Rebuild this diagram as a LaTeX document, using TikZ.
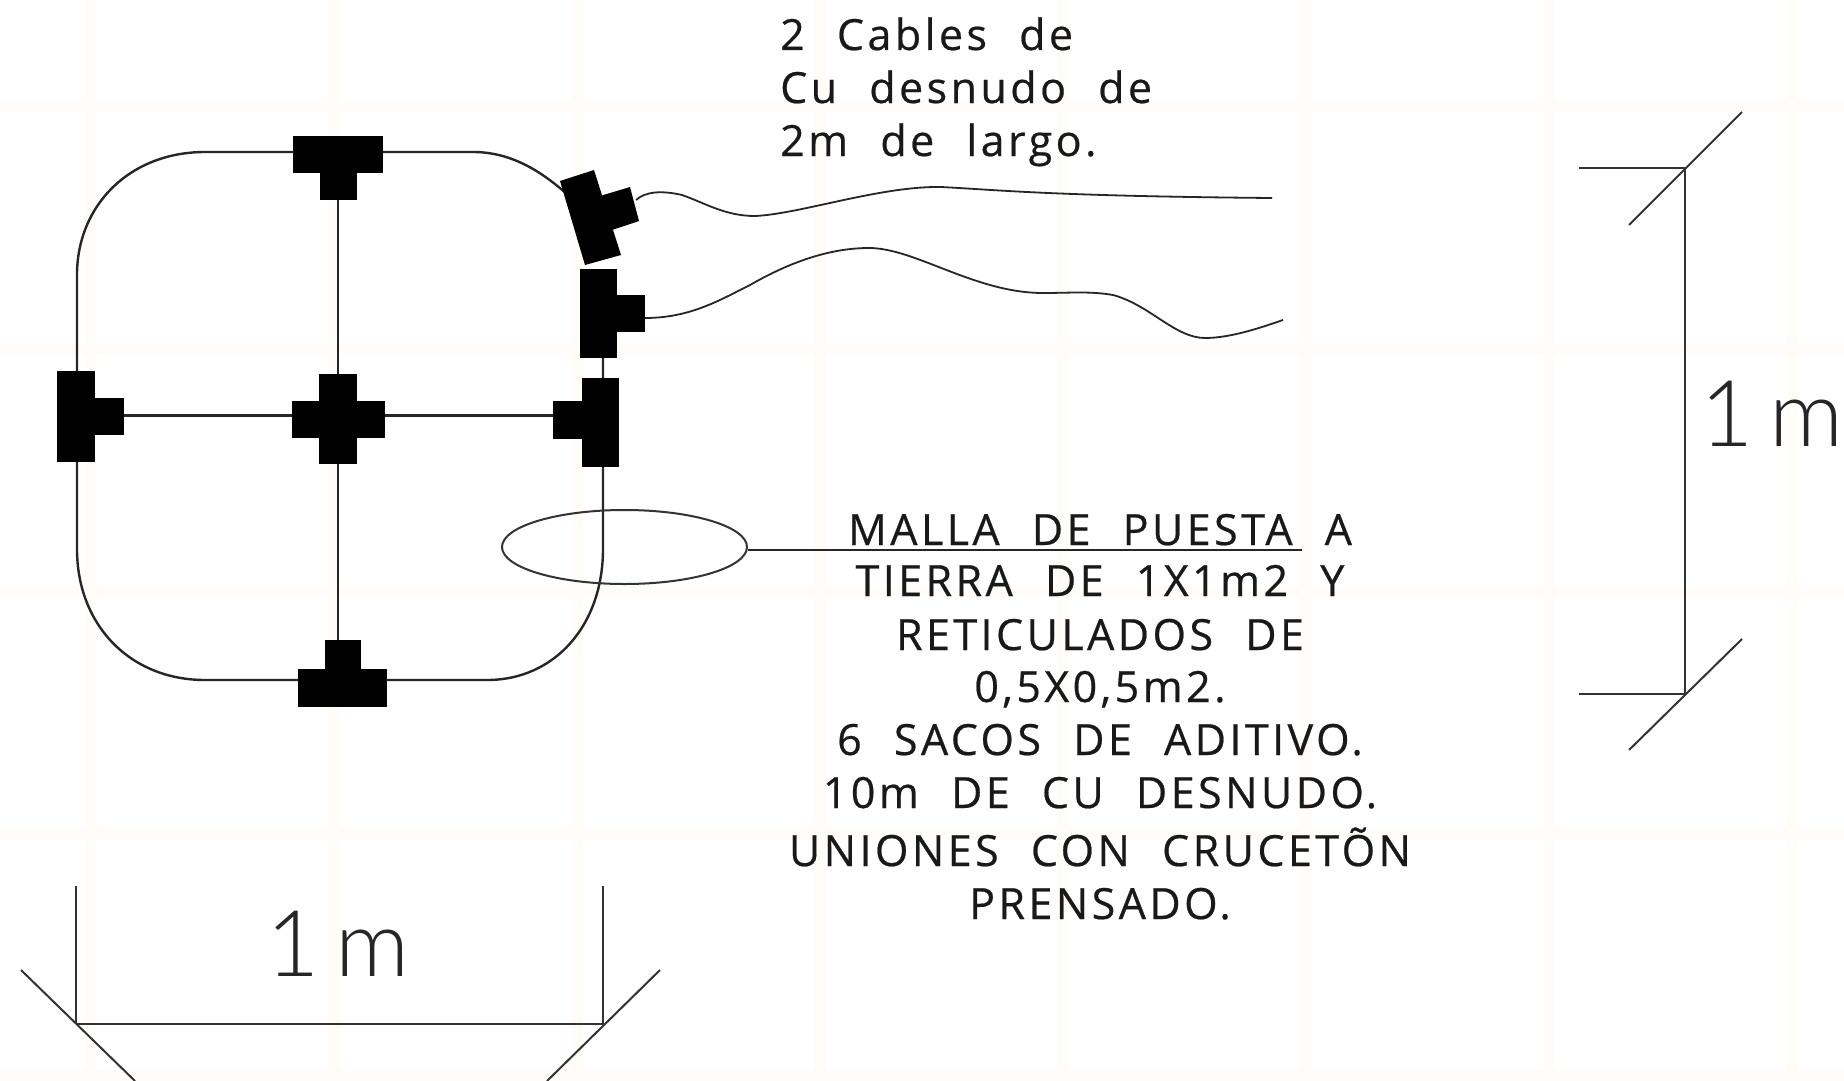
\documentclass[tikz,border=0pt]{standalone}
\usepackage{fontspec}
\usetikzlibrary{shapes.geometric}
\setmainfont{Open Sans}[LetterSpace=8,WordSpace=2.2,FakeBold=0.5]
\newfontfamily\dimfont{Lato Light}
\tikzset{
  x=1pt,y=-1pt,
  wire/.style={draw=black!85,line width=2.4pt},
  cable/.style={draw=black!85,line width=1.8pt},
  thin dim/.style={draw=black!80,line width=2pt},
  lug/.style={fill=black,draw=none},
  lbl/.style={anchor=base,inner sep=0pt,font=\fontsize{43}{43}\selectfont,text=black!90},
  lbll/.style={anchor=base west,inner sep=0pt,font=\fontsize{43}{43}\selectfont,text=black!90},
  dimlbl/.style={anchor=base,inner sep=0pt,font=\dimfont\fontsize{92}{92}\selectfont,text=black!85},
  band/.style={fill=orange!2,draw=none},
}
\begin{document}
\begin{tikzpicture}
\useasboundingbox (0,0) rectangle (1844,1081);
\fill[white] (0,0) rectangle (1844,1081);
\foreach \bx in {91,334,577,820,1063,1306,1549,1792} \fill[band] (\bx-6,0) rectangle (\bx+6,1081);
\foreach \by in {106,349,592,833,1075} \fill[band] (0,\by-6) rectangle (1844,\by+6);

% mesh
\draw[wire] (568,195) .. controls (540,170) and (510,152) .. (473,152) -- (205,152)
  .. controls (130,152) and (77,205) .. (77,275) -- (77,549)
  .. controls (77,625) and (130,680) .. (205,680) -- (487,680)
  .. controls (555,680) and (603,625) .. (603,549) -- (603,270);
\node[inner sep=0pt,minimum size=0pt] (ctr) at (338,415.5) {};
\coordinate (vt) at (338,190);
\coordinate (vb) at (338,650);
\coordinate (hl) at (115,415.5);
\coordinate (hr) at (560,415.5);
\draw[wire] (vt) -- (ctr) -- (vb);
\draw[wire] (hl) -- (ctr) -- (hr);

% connectors
\fill[lug] (293,136) rectangle (383,173); \fill[lug] (320,136) rectangle (357,200);
\fill[lug] (319,374) rectangle (357,464); \fill[lug] (292,401) rectangle (385,438);
\fill[lug] (57,371) rectangle (95,462); \fill[lug] (57,398) rectangle (124,435);
\fill[lug] (582,378) rectangle (619,467); \fill[lug] (553,401) rectangle (619,439);
\fill[lug] (580,269) rectangle (617,358); \fill[lug] (580,295) rectangle (645,332);
\fill[lug] (298,669) rectangle (387,707); \fill[lug] (325,640) rectangle (361,707);
\fill[lug] (560,181) -- (594,170) -- (621,255) -- (585,265) -- cycle;
\fill[lug] (590,199) -- (630,187) -- (639,221) -- (600,234) -- cycle;

% cables
\coordinate (c1a) at (636,200);
\coordinate (c1b) at (1272,198);
\draw[cable] (c1a) .. controls (645,192) and (660,190) .. (682,195)
  .. controls (705,203) and (725,216) .. (755,216)
  .. controls (800,214) and (880,186) .. (941,187)
  .. controls (1000,190) and (1050,196) .. (c1b);
\coordinate (c2a) at (645,318);
\coordinate (c2b) at (1283,320);
\draw[cable] (c2a) .. controls (690,318) and (720,300) .. (750,285)
  .. controls (790,262) and (830,248) .. (869,248)
  .. controls (915,248) and (975,293) .. (1043,293)
  .. controls (1070,293) and (1090,291) .. (1113,295)
  .. controls (1150,305) and (1175,338) .. (1205,338)
  .. controls (1230,338) and (1260,328) .. (c2b);

% ellipse and leader
\node[draw=black!80,line width=2pt,ellipse,minimum width=245pt,minimum height=74pt,inner sep=0pt] (ell) at (624.5,547) {};
\coordinate (ldB) at (1302,550);
\draw[wire] (ell.east |- ldB) -- (ldB);

% dimension right
\coordinate (r1) at (1685,168);
\coordinate (r2) at (1685,694);
\coordinate (r1e) at (1579,168);
\coordinate (r2e) at (1579,694);
\draw[thin dim] (r1) -- (r2);
\draw[thin dim] (r1e) -- (r1);
\draw[thin dim] (r2e) -- (r2);
\draw[thin dim] (1629,225) -- (1742,112);
\draw[thin dim] (1629,750) -- (1742,639);
\node[dimlbl] (d1) at (1772,446) {1\,m};

% dimension bottom
\coordinate (b1) at (76,1024);
\coordinate (b2) at (603,1024);
\coordinate (b1e) at (76,886);
\coordinate (b2e) at (603,886);
\draw[thin dim] (b1) -- (b2);
\draw[thin dim] (b1e) -- (b1);
\draw[thin dim] (b2e) -- (b2);
\draw[thin dim] (21,970) -- (135,1081);
\draw[thin dim] (660,970) -- (547,1081);
\node[dimlbl] (d2) at (338,976) {1\,m};

% labels
\node[lbll] (t1) at (780,50) {2 Cables de};
\node[lbll] (t2) at (780,103) {Cu desnudo de};
\node[lbll] (t3) at (780,156) {2m de largo.};
\node[lbl] (m1) at (1100,545) {MALLA DE PUESTA A};
\node[lbl] (m2) at (1100,596) {TIERRA DE 1X1m2 Y};
\node[lbl] (m3) at (1100,650) {RETICULADOS DE};
\node[lbl] (m4) at (1100,702) {0,5X0,5m2.};
\node[lbl] (m5) at (1100,755) {6 SACOS DE ADITIVO.};
\node[lbl] (m6) at (1100,808) {10m DE CU DESNUDO.};
\node[lbl] (m7) at (1100,866) {UNIONES CON CRUCETÕN};
\node[lbl] (m8) at (1100,919) {PRENSADO.};
\end{tikzpicture}
\end{document}
